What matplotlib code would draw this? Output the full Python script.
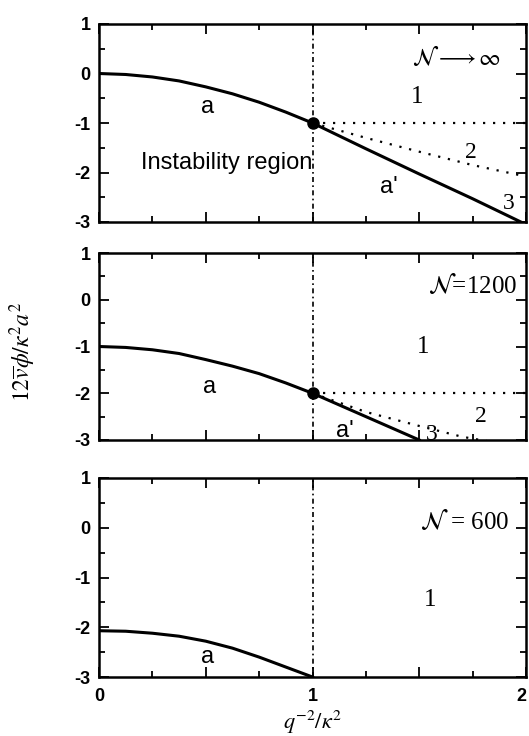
import numpy as np
import matplotlib
matplotlib.use("Agg")
import matplotlib.pyplot as plt
from matplotlib.ticker import MultipleLocator, FixedLocator

plt.rcParams['axes.unicode_minus'] = False
plt.rcParams['mathtext.fontset'] = 'stix'
plt.rcParams['font.family'] = ['Liberation Sans', 'DejaVu Sans']

# curve a (x <= 1) for each panel
a_x = [0, 0.125, 0.25, 0.375, 0.5, 0.625, 0.75, 0.875, 1.0]
a_inf = [0, -0.02, -0.07, -0.15, -0.27, -0.41, -0.58, -0.78, -1.0]
a_1200 = [-1.0, -1.02, -1.07, -1.15, -1.28, -1.42, -1.58, -1.78, -2.0]
a_600 = [-2.07, -2.08, -2.12, -2.18, -2.28, -2.42, -2.6, -2.8, -3.0]

# curve a' (x >= 1)
ap_x_inf = [1.0, 1.25, 1.5, 1.75, 2.0]
ap_inf = [-1.0, -1.52, -2.03, -2.53, -3.05]
ap_x_1200 = [1.0, 1.25, 1.5]
ap_1200 = [-2.0, -2.5, -3.0]

# dotted boundaries starting at the critical point
crit_inf = (1.0, -1.0)
crit_1200 = (1.0, -2.0)
b2_x_inf = [1.0, 1.25, 1.5, 1.75, 2.0]
b2_inf = [-1.0, -1.3, -1.58, -1.85, -2.08]
b2_x_1200 = [1.0, 1.25, 1.5, 1.7, 1.85]
b2_1200 = [-2.0, -2.4, -2.7, -2.93, -3.05]

y_ticks = [-3, -2, -1, 0, 1]
y_labels = ['-3', '-2', '-1', '0', '1']
x_ticks = [0, 0.5, 1, 1.5, 2]
x_labels = ['0', '', '1', '', '2']

W, H = 529, 736
fig = plt.figure(figsize=(W / 100, H / 100), dpi=100)

left, right = 99 / W, 526 / W
boxes = [(24, 222), (253, 440), (478, 677)]
axes = []
for top, bot in boxes:
    ax = fig.add_axes([left, 1 - bot / H, right - left, (bot - top) / H])
    axes.append(ax)

serif = ['Liberation Serif', 'DejaVu Serif']
dots = (0, (1, 3.5))

for i, ax in enumerate(axes):
    ax.set_xlim(0, 2)
    ax.set_ylim(-3, 1)
    ax.xaxis.set_major_locator(FixedLocator(x_ticks))
    ax.xaxis.set_minor_locator(MultipleLocator(0.25))
    ax.yaxis.set_major_locator(FixedLocator(y_ticks))
    ax.yaxis.set_minor_locator(MultipleLocator(0.5))
    ax.tick_params(which='both', direction='in', top=True, right=True, width=1.3)
    ax.tick_params(which='major', length=7, labelsize=13)
    ax.tick_params(which='minor', length=4)
    ax.tick_params(axis='x', pad=8)
    ax.tick_params(axis='y', pad=6)
    ax.set_yticklabels(y_labels, fontweight='bold')
    if i < 2:
        ax.set_xticklabels([])
    else:
        ax.set_xticklabels(x_labels, fontweight='bold')
        ax.get_xticklabels()[-1].set_horizontalalignment('right')
    for s in ax.spines.values():
        s.set_linewidth(1.8)
    ax.axvline(1.0, color='black', lw=1.2, ls=(0, (3, 2, 1, 2)))

# N -> infinity
ax = axes[0]
ax.plot(a_x, a_inf, color='black', lw=2.2)
ax.plot(ap_x_inf, ap_inf, color='black', lw=2.2)
ax.plot([crit_inf[0], 2.0], [crit_inf[1], crit_inf[1]], color='black', lw=1.6, ls=dots)
ax.plot(b2_x_inf, b2_inf, color='black', lw=1.6, ls=dots)
ax.plot(*crit_inf, 'o', color='black', ms=8)
ax.text(0.51, -0.68, 'a', fontsize=17, ha='center', va='center')
ax.text(0.6, -1.81, 'Instability region', fontsize=17, ha='center', va='center')
ax.text(1.36, -2.3, "a'", fontsize=17, ha='center', va='center')
ax.text(1.49, -0.47, '1', fontsize=18, family=serif, ha='center', va='center')
ax.text(1.74, -1.6, '2', fontsize=17, family=serif, ha='center', va='center')
ax.text(1.92, -2.62, '3', fontsize=17, family=serif, ha='center', va='center')
ax.text(1.88, 0.33, r'$\mathcal{N}\longrightarrow\infty$', fontsize=17, ha='right', va='center')

# N = 1200
ax = axes[1]
ax.plot(a_x, a_1200, color='black', lw=2.2)
ax.plot(ap_x_1200, ap_1200, color='black', lw=2.2)
ax.plot([crit_1200[0], 2.0], [crit_1200[1], crit_1200[1]], color='black', lw=1.6, ls=dots)
ax.plot(b2_x_1200, b2_1200, color='black', lw=1.6, ls=dots)
ax.plot(*crit_1200, 'o', color='black', ms=8)
ax.text(0.52, -1.87, 'a', fontsize=17, ha='center', va='center')
ax.text(1.15, -2.8, "a'", fontsize=17, ha='center', va='center')
ax.text(1.52, -1.02, '1', fontsize=18, family=serif, ha='center', va='center')
ax.text(1.79, -2.5, '2', fontsize=17, family=serif, ha='center', va='center')
ax.text(1.56, -2.88, '3', fontsize=17, family=serif, ha='center', va='center')
ax.text(1.96, 0.3, r'$\mathcal{N}$=1200', fontsize=18, family=serif, ha='right', va='center')

# N = 600
ax = axes[2]
ax.plot(a_x, a_600, color='black', lw=2.2)
ax.text(0.51, -2.6, 'a', fontsize=17, ha='center', va='center')
ax.text(1.55, -1.45, '1', fontsize=18, family=serif, ha='center', va='center')
ax.text(1.92, 0.12, r'$\mathcal{N}$ = 600', fontsize=18, family=serif, ha='right', va='center')

fig.text(23 / W, 1 - 352 / H, r'$12\overline{v}\phi/\kappa^2 a^2$', rotation=90,
         fontsize=17, ha='center', va='center')
fig.text(312 / W, 1 - 722 / H, r'$q^{-2}/\kappa^2$', fontsize=16, ha='center', va='center')

fig.savefig('out.png', dpi=100)
